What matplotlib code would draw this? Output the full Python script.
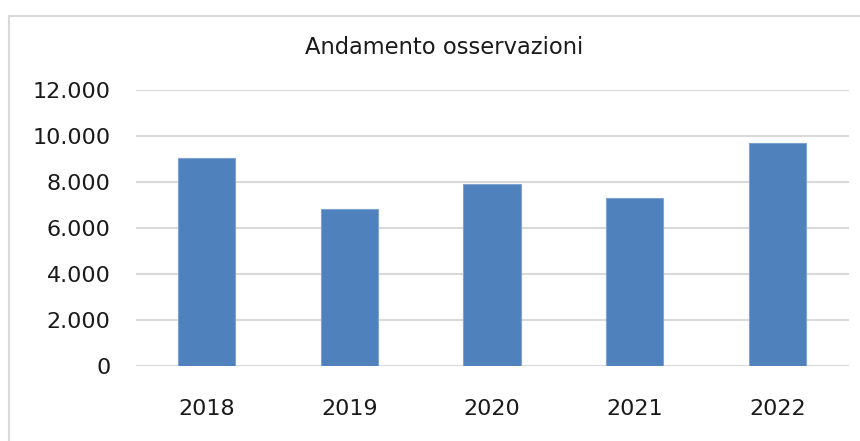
import matplotlib.pyplot as plt
from matplotlib.patches import Rectangle

# data
anni = ['2018', '2019', '2020', '2021', '2022']
osservazioni = [9040, 6830, 7920, 7310, 9700]
y_ticks = [0, 2000, 4000, 6000, 8000, 10000, 12000]
y_labels = ['0', '2.000', '4.000', '6.000', '8.000', '10.000', '12.000']

plt.rcParams['font.family'] = ['DejaVu Sans']

fig = plt.figure(figsize=(8.6, 4.41), dpi=100)
ax = fig.add_axes([135.5 / 860, 75.3 / 441, 713 / 860, 275.4 / 441])

# outer frame of the chart box
fig.patches.append(Rectangle((9 / 860, -0.1), 1.2, 1 - 16 / 441 + 0.1,
                             transform=fig.transFigure, fill=False,
                             edgecolor='#d9d9d9', linewidth=1.5))

x = range(len(anni))
ax.bar(x, osservazioni, width=0.4, color='#4f81bd', edgecolor='#7fa3d0',
       linewidth=0.8, zorder=3)

ax.set_xlim(-0.5, 4.5)
ax.set_ylim(0, 12000)
ax.set_yticks(y_ticks)
ax.set_yticklabels(y_labels)
ax.set_xticks(list(x))
ax.set_xticklabels(anni)
ax.tick_params(axis='y', length=0, pad=18, labelsize=16, labelcolor='#1a1a1a')
ax.tick_params(axis='x', length=0, pad=24, labelsize=16, labelcolor='#1a1a1a')

ax.grid(axis='y', color='#d9d9d9', linewidth=1.5, zorder=0)
for s in ax.spines.values():
    s.set_visible(False)

fig.text(444 / 860, 1 - 47 / 441, 'Andamento osservazioni', ha='center',
         va='center', fontsize=16.3, color='#1a1a1a')

plt.savefig('out.png', dpi=100)
